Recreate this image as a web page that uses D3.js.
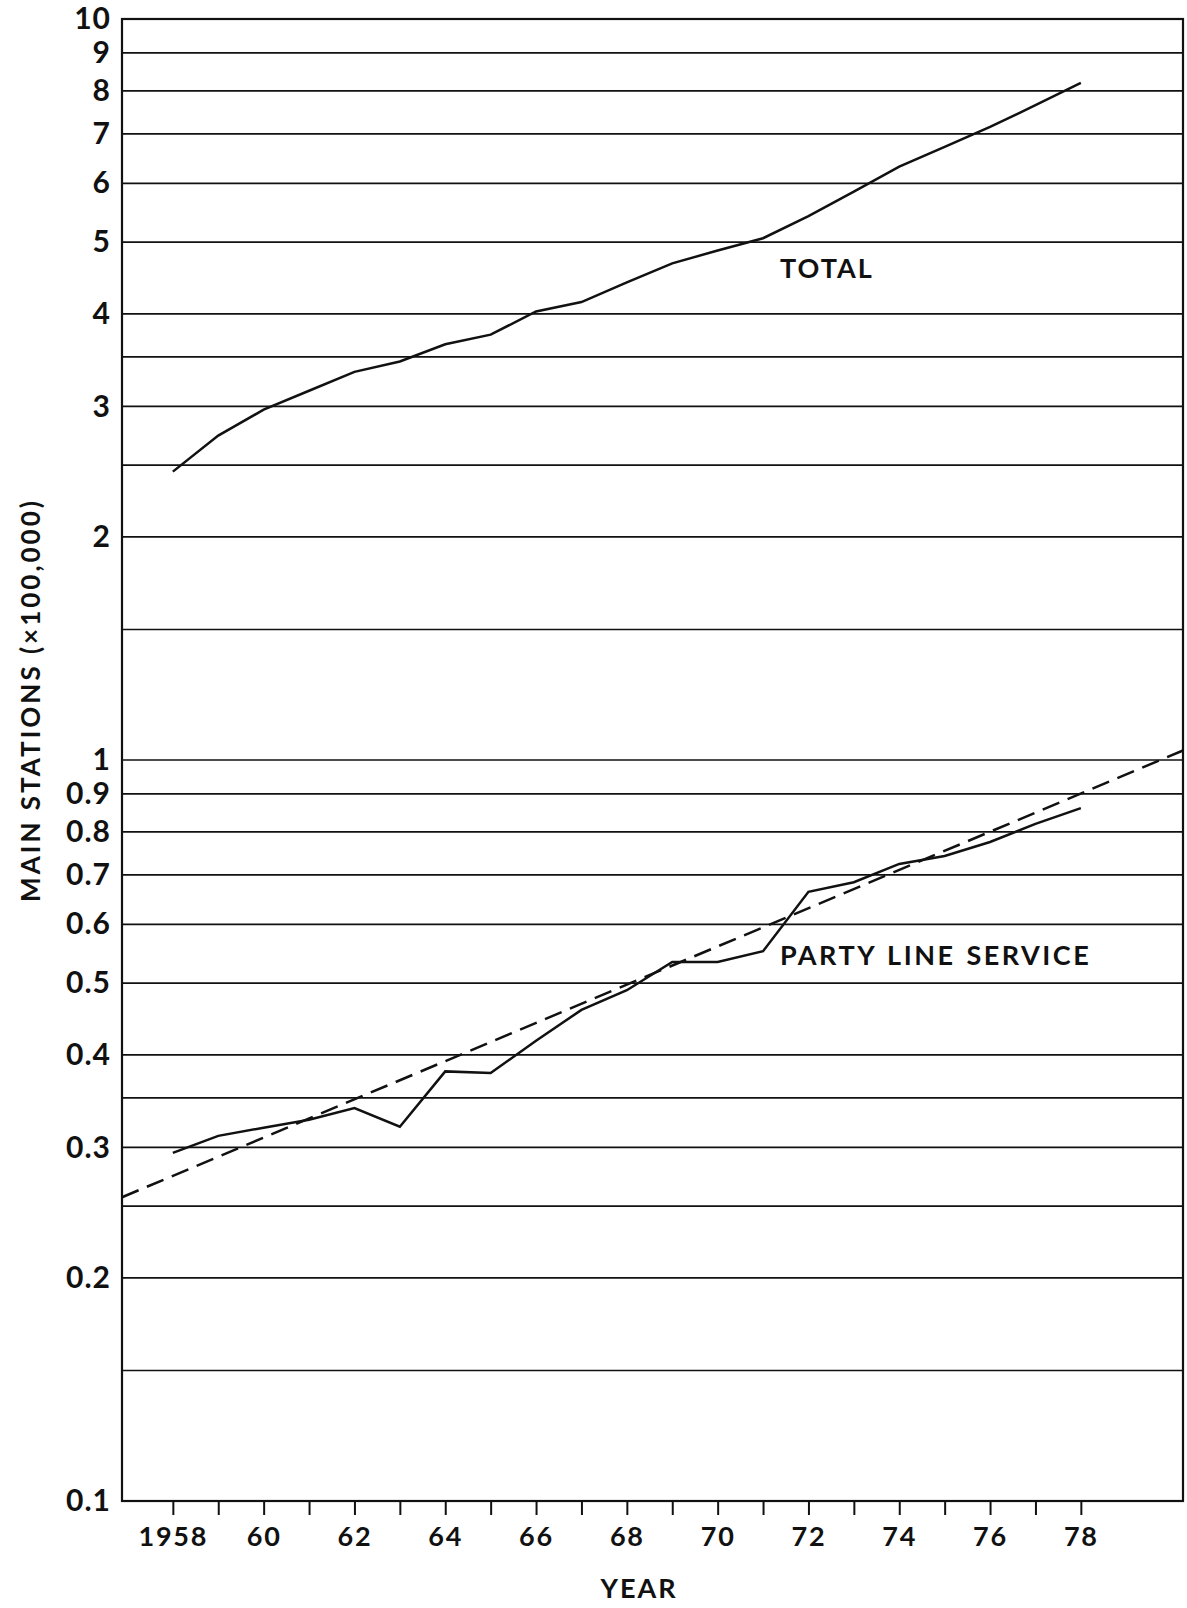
<!DOCTYPE html>
<html lang="en">
<head>
    <meta charset="UTF-8">
    <title>Main stations</title>
    <script src="https://cdn.jsdelivr.net/npm/d3@7/dist/d3.min.js"></script>
    <style>
        body { margin: 0; background: #fff; }
        text { font-family: Lato, "DejaVu Sans", sans-serif; font-weight: bold; fill: #111; }
    </style>
</head>
<body>
<script>

    // data (main stations, x100,000)
    var years = [1958,1959,1960,1961,1962,1963,1964,1965,1966,1967,1968,1969,1970,1971,1972,1973,1974,1975,1976,1977,1978];
    var total = [2.45,2.74,2.97,3.15,3.34,3.45,3.64,3.75,4.03,4.15,4.41,4.68,4.87,5.06,5.42,5.85,6.32,6.72,7.15,7.65,8.2];
    var partyLine = [0.295,0.311,0.319,0.327,0.339,0.320,0.380,0.378,0.418,0.460,0.489,0.534,0.534,0.552,0.664,0.684,0.724,0.742,0.775,0.820,0.861];

    // dashed trend, given at the two edges of the year axis
    var trendYears = [1956.88, 1980.25];
    var trendValues = [0.257, 1.03];

    var yLabelValues = [0.1,0.2,0.3,0.4,0.5,0.6,0.7,0.8,0.9,1,2,3,4,5,6,7,8,9,10];
    var gridValues = [0.15,0.2,0.25,0.3,0.35,0.4,0.5,0.6,0.7,0.8,0.9,1,1.5,2,2.5,3,3.5,4,5,6,7,8,9];
    var tickYears = d3.range(1958, 1979);

    var width = 1187;
    var height = 1608;
    var plotLeft = 122, plotRight = 1183, plotTop = 19, plotBottom = 1501;

    var svg = d3.select("body")
        .append("svg")
        .attr("width", width)
        .attr("height", height);

    svg.append("rect")
        .attr("width", width)
        .attr("height", height)
        .attr("fill", "#fff");

    var x = d3.scaleLinear().domain(trendYears).range([plotLeft, plotRight]);
    var y = d3.scaleLog().domain([0.1, 10]).range([plotBottom, plotTop]);

    // horizontal rules
    svg.selectAll("line.grid")
        .data(gridValues)
        .enter()
        .append("line")
        .attr("class", "grid")
        .attr("x1", plotLeft)
        .attr("x2", plotRight)
        .attr("y1", function (d) { return y(d); })
        .attr("y2", function (d) { return y(d); })
        .attr("stroke", "#111")
        .attr("stroke-width", 1.7);

    // frame
    svg.append("rect")
        .attr("x", plotLeft)
        .attr("y", plotTop)
        .attr("width", plotRight - plotLeft)
        .attr("height", plotBottom - plotTop)
        .attr("fill", "none")
        .attr("stroke", "#111")
        .attr("stroke-width", 2.2);

    // x axis
    var xAxis = d3.axisBottom(x)
        .tickValues(tickYears)
        .tickSize(14)
        .tickPadding(12)
        .tickFormat(function (d) {
            if (d % 2) return "";
            return d === 1958 ? "1958" : String(d).slice(2);
        });

    var gx = svg.append("g")
        .attr("transform", "translate(0," + plotBottom + ")")
        .call(xAxis);
    gx.select(".domain").remove();
    gx.selectAll(".tick line").attr("stroke", "#111").attr("stroke-width", 2);
    gx.selectAll(".tick text")
        .attr("font-size", "27px")
        .attr("font-family", "Lato, sans-serif")
        .attr("letter-spacing", "1.8px")
        .attr("fill", "#111");

    // y axis
    var yAxis = d3.axisLeft(y)
        .tickValues(yLabelValues)
        .tickSize(0)
        .tickPadding(11)
        .tickFormat(function (d) { return d < 1 ? d.toFixed(1) : String(d); });

    var gy = svg.append("g")
        .attr("transform", "translate(" + plotLeft + ",0)")
        .call(yAxis);
    gy.select(".domain").remove();
    gy.selectAll(".tick text")
        .attr("font-size", "30px")
        .attr("font-family", "Lato, sans-serif")
        .attr("letter-spacing", "1px")
        .attr("fill", "#111");

    // lines
    var line = d3.line()
        .x(function (d) { return x(d[0]); })
        .y(function (d) { return y(d[1]); });

    svg.append("path")
        .datum(d3.zip(trendYears, trendValues))
        .attr("d", line)
        .attr("fill", "none")
        .attr("stroke", "#111")
        .attr("stroke-width", 2.5)
        .attr("stroke-dasharray", "18,9");

    svg.append("path")
        .datum(d3.zip(years, total))
        .attr("d", line)
        .attr("fill", "none")
        .attr("stroke", "#111")
        .attr("stroke-width", 2.5);

    svg.append("path")
        .datum(d3.zip(years, partyLine))
        .attr("d", line)
        .attr("fill", "none")
        .attr("stroke", "#111")
        .attr("stroke-width", 2.5);

    // labels
    svg.append("text")
        .attr("x", 780)
        .attr("y", 278)
        .attr("font-size", "27px")
        .attr("letter-spacing", "2px")
        .text("TOTAL");

    svg.append("text")
        .attr("x", 780)
        .attr("y", 965)
        .attr("font-size", "27px")
        .attr("letter-spacing", "2.5px")
        .attr("word-spacing", "2px")
        .text("PARTY LINE SERVICE");

    svg.append("text")
        .attr("x", 639)
        .attr("y", 1598)
        .attr("text-anchor", "middle")
        .attr("font-size", "27px")
        .attr("letter-spacing", "2px")
        .text("YEAR");

    svg.append("text")
        .attr("transform", "translate(40,700) rotate(-90)")
        .attr("text-anchor", "middle")
        .attr("font-size", "26px")
        .attr("letter-spacing", "3px")
        .text("MAIN STATIONS (\u00d7100,000)");

</script>
</body>
</html>
